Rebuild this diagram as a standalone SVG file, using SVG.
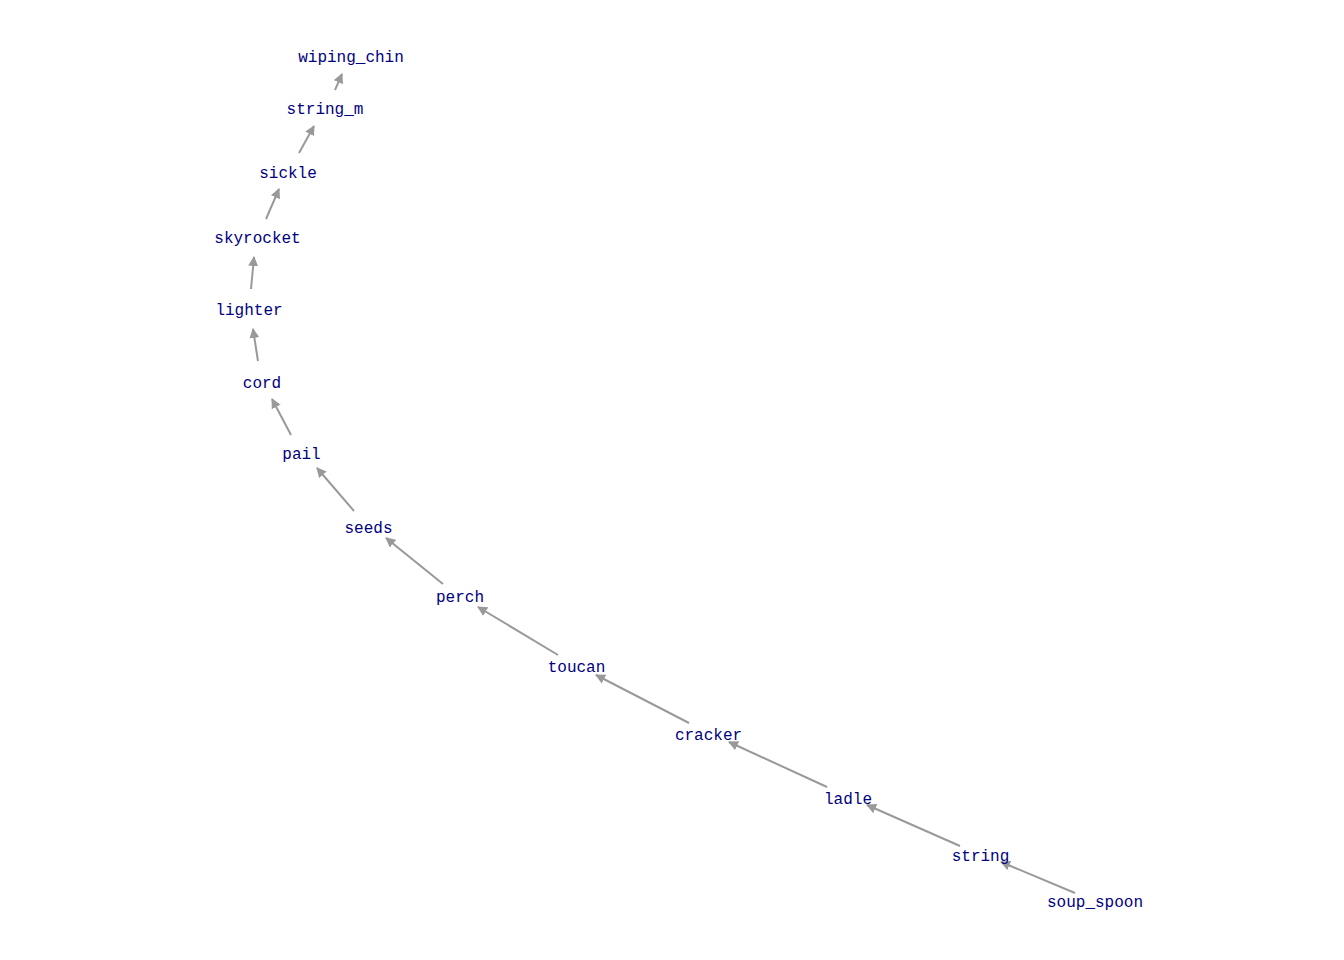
<svg xmlns="http://www.w3.org/2000/svg" width="1344" height="960" viewBox="0 0 1344 960">
<style>
.n text{font-family:"Liberation Mono","Courier New",monospace;font-size:16px;fill:#000080;text-anchor:middle;dominant-baseline:central}
.e line{stroke:#999;stroke-width:2;marker-end:url(#a)}
</style>
<defs>
<marker id="a" viewBox="0 0 10 10" refX="9" refY="5" markerWidth="5" markerHeight="5" orient="auto" markerUnits="strokeWidth">
<path d="M0,0L10,5L0,10z" fill="#999"/>
</marker>
</defs>
<rect width="1344" height="960" fill="#fff"/>
<g id="edges" class="e">
<line x1="1075" y1="893" x2="1001" y2="862"/>
<line x1="960" y1="846" x2="867" y2="805"/>
<line x1="827" y1="787" x2="729" y2="742"/>
<line x1="689" y1="723" x2="596" y2="675"/>
<line x1="558" y1="655" x2="478" y2="607"/>
<line x1="443" y1="584" x2="386" y2="538"/>
<line x1="354" y1="511" x2="317" y2="468"/>
<line x1="291" y1="435" x2="272" y2="399"/>
<line x1="258" y1="361" x2="253" y2="329"/>
<line x1="251" y1="289" x2="254" y2="257"/>
<line x1="266" y1="219" x2="279" y2="189"/>
<line x1="299" y1="153" x2="314" y2="126"/>
<line x1="335" y1="90" x2="342" y2="74"/>
</g>
<g id="wiping_chin" class="n"><text x="351" y="57.5">wiping_chin</text></g>
<g id="string_m" class="n"><text x="325" y="109.5">string_m</text></g>
<g id="sickle" class="n"><text x="288" y="173.5">sickle</text></g>
<g id="skyrocket" class="n"><text x="257.5" y="238.5">skyrocket</text></g>
<g id="lighter" class="n"><text x="249" y="310.5">lighter</text></g>
<g id="cord" class="n"><text x="262" y="383.5">cord</text></g>
<g id="pail" class="n"><text x="301.5" y="454.5">pail</text></g>
<g id="seeds" class="n"><text x="368.5" y="528.5">seeds</text></g>
<g id="perch" class="n"><text x="460" y="597.5">perch</text></g>
<g id="toucan" class="n"><text x="576.5" y="667.5">toucan</text></g>
<g id="cracker" class="n"><text x="708.5" y="735.5">cracker</text></g>
<g id="ladle" class="n"><text x="848" y="799.5">ladle</text></g>
<g id="string" class="n"><text x="980.5" y="856.5">string</text></g>
<g id="soup_spoon" class="n"><text x="1095" y="902.5">soup_spoon</text></g>
</svg>
